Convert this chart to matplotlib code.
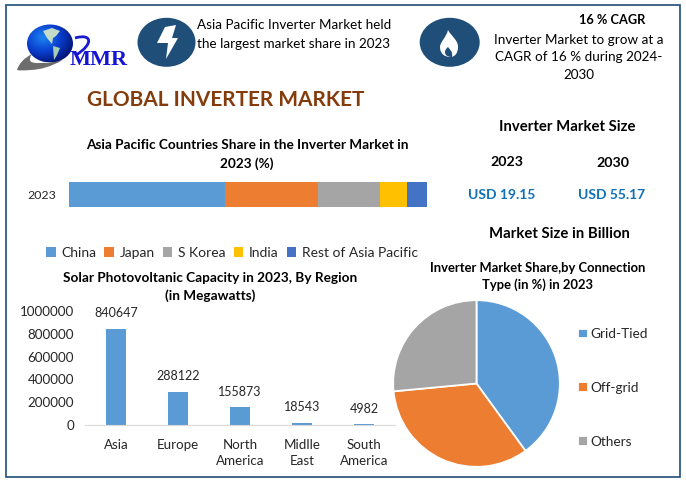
import matplotlib
matplotlib.use("Agg")
import matplotlib.pyplot as plt
import numpy as np
from matplotlib.colors import LinearSegmentedColormap
from matplotlib.patches import Ellipse, Polygon, Rectangle, PathPatch
from matplotlib.path import Path

W, H = 686, 482

plt.rcParams['font.family'] = ['Lato', 'DejaVu Sans']

# stacked bar
share_year = "2023"
share_countries = ["China", "Japan", "S Korea", "India", "Rest of Asia Pacific"]
share_values = [43.6, 25.9, 17.4, 7.5, 5.6]
share_colors = ["#5b9bd5", "#ed7d31", "#a5a5a5", "#ffc000", "#4472c4"]

# solar capacity bars
regions = ["Asia", "Europe", "North\nAmerica", "Midlle\nEast", "South\nAmerica"]
capacity = [840647, 288122, 155873, 18543, 4982]
capacity_ticks = [0, 200000, 400000, 600000, 800000, 1000000]

# pie
connection_types = ["Grid-Tied", "Off-grid", "Others"]
connection_share = [40, 33.5, 26.5]
pie_colors = ["#5b9bd5", "#ed7d31", "#a5a5a5"]

NAVY = "#1f4e79"
TXT = "#262626"


def px_axes(fig, left, top, right, bottom):
    return fig.add_axes([left / W, 1 - bottom / H, (right - left) / W, (bottom - top) / H])


fig = plt.figure(figsize=(W / 100, H / 100), dpi=100, facecolor="white")

# full figure layer in pixel coordinates for the text and icons
bg = fig.add_axes([0, 0, 1, 1])
bg.set_xlim(0, W)
bg.set_ylim(H, 0)
bg.axis("off")
bg.add_patch(Rectangle((6, 5), 674, 472, fill=False, ec=NAVY, lw=1.2))


def txt(x, y, s, size=9.75, weight="normal", color="black", ha="center", **kw):
    bg.text(x, y, s, fontsize=size, fontweight=weight, color=color, ha=ha, va="center", **kw)


# logo
swoosh = Path([(17, 70), (20, 60), (32, 54), (25, 64), (40, 63), (52, 63), (63, 60), (45, 70), (30, 70), (20, 71), (17, 70)],
              [1, 3, 3, 3, 3, 3, 3, 3, 3, 3, 3])
bg.add_patch(PathPatch(swoosh, fc="#6d6d6d", ec="none"))
yy, xx = np.mgrid[-1:1:120j, -1:1:120j]
rr = np.sqrt((xx + 0.3) ** 2 + (yy + 0.3) ** 2)
globe_cmap = LinearSegmentedColormap.from_list("globe", ["#1c86f0", "#0a3fd0", "#00106a"])
globe = bg.imshow(rr, cmap=globe_cmap, vmin=0, vmax=1.5, extent=(27, 73, 62.5, 24.5), zorder=2, aspect="auto")
globe.set_clip_path(Ellipse((50, 43.5), 46, 38, transform=bg.transData))
bg.set_xlim(0, W)
bg.set_ylim(H, 0)
bg.add_patch(Polygon([(43, 31), (52, 28), (60, 31), (56, 36), (53, 38), (52, 44), (47, 38)], fc="#c4dcc8", ec="none", zorder=3))
bg.add_patch(Polygon([(53, 46), (60, 48), (57, 55), (54, 60)], fc="#a8ccb4", ec="none", zorder=3))
arc = Path([(75, 38), (92, 33), (94, 44), (76, 55)], [1, 4, 4, 4])
bg.add_patch(PathPatch(arc, fc="none", ec="#1a1ad0", lw=2, zorder=3))
bg.text(99, 60, "MMR", fontsize=16, fontweight="bold", color="#1414d2", family="Liberation Serif",
        ha="center", va="center", zorder=4)

# icons
bg.add_patch(Ellipse((166.5, 42.3), 58, 49, fc=NAVY, ec="none"))
bg.add_patch(Polygon([(165, 27), (176, 25), (172, 38), (178, 38), (166, 59), (168, 43), (157, 43)],
                     fc="white", ec="none"))
bg.add_patch(Ellipse((449.7, 42.3), 60, 49, fc=NAVY, ec="none"))
flame = Path([(448, 30), (452, 37), (458, 40), (458, 47), (458, 53), (455, 57), (450, 57),
              (445, 57), (440, 54), (440, 47), (440, 42), (446, 38), (448, 30)],
             [1] + [4] * 12)
bg.add_patch(PathPatch(flame, fc="white", ec="none"))
inner = Path([(448, 47), (450, 50), (453, 51), (452, 57), (444, 57), (443, 51), (448, 47)], [1] + [4] * 6)
bg.add_patch(PathPatch(inner, fc=NAVY, ec="none"))

# header text
txt(197, 25, "Asia Pacific Inverter Market held", ha="left")
txt(197, 44.5, "the largest market share in 2023", ha="left")
txt(612.5, 19.5, "16 % CAGR", size=9.2, weight="bold")
txt(578.5, 39.5, "Inverter Market to grow at a")
txt(578.5, 57, "CAGR of 16 % during 2024-")
txt(578.5, 75, "2030")
txt(226, 99.5, "GLOBAL INVERTER MARKET", size=15, weight="bold", color="#843c0c")

# right hand numbers
txt(567, 127, "Inverter Market Size", size=10.7, weight="bold")
txt(507, 162, "2023", size=10.2, weight="bold")
txt(613, 163, "2030", size=10.2, weight="bold")
txt(502, 195, "USD 19.15", size=10, weight="bold", color="#0f70b7")
txt(612, 195, "USD 55.17", size=10, weight="bold", color="#0f70b7")
txt(559, 234, "Market Size in Billion", size=10.7, weight="bold")

# chart titles
txt(247, 145, "Asia Pacific Countries Share in the Inverter Market in", size=9.85, weight="bold")
txt(247, 163.5, "2023 (%)", size=9.85, weight="bold")
txt(210, 278, "Solar Photovoltanic Capacity in 2023, By Region", size=9.85, weight="bold")
txt(210, 296, "(in Megawatts)", size=9.85, weight="bold")
txt(538, 268, "Inverter Market Share,by Connection", size=9.4, weight="bold")
txt(538, 285, "Type (in %) in 2023", size=9.4, weight="bold")

# stacked bar chart
ax1 = px_axes(fig, 69, 181, 427, 208)
ax1.patch.set_alpha(0)
left = 0
for name, val, col in zip(share_countries, share_values, share_colors):
    ax1.barh([share_year], [val], left=left, height=1.0, color=col, label=name)
    left += val
ax1.set_xlim(0, sum(share_values))
ax1.set_xticks([])
ax1.tick_params(axis="y", length=0, labelsize=8.9, pad=9, labelcolor=TXT)
for s in ax1.spines.values():
    s.set_visible(False)
ax1.legend(ncol=5, loc="center", bbox_to_anchor=(0.455, -1.65), frameon=False, fontsize=10,
           labelcolor=TXT, handlelength=0.7, handleheight=0.7, handletextpad=0.4, columnspacing=0.58)

# capacity bar chart
ax2 = px_axes(fig, 85, 311, 395, 425)
ax2.patch.set_alpha(0)
pos = np.arange(len(regions))
bars = ax2.bar(pos, capacity, width=0.31, color="#5b9bd5")
ax2.set_xlim(-0.5, len(regions) - 0.5)
ax2.set_ylim(0, 1000000)
ax2.set_yticks(capacity_ticks)
ax2.set_yticklabels([str(t) for t in capacity_ticks])
ax2.set_xticks(pos)
ax2.set_xticklabels(regions, linespacing=1.45)
ax2.tick_params(axis="both", length=0, labelsize=9.6, labelcolor=TXT)
ax2.tick_params(axis="x", pad=10)
ax2.tick_params(axis="y", pad=8)
for s in ["top", "left", "right"]:
    ax2.spines[s].set_visible(False)
ax2.spines["bottom"].set_color("#d9d9d9")
ax2.bar_label(bars, labels=[str(v) for v in capacity], padding=7, fontsize=9, color=TXT)

# pie
ax3 = px_axes(fig, 393, 300, 560, 467)
wedges, _ = ax3.pie(connection_share, colors=pie_colors, startangle=90, counterclock=False, radius=1.0,
                    wedgeprops=dict(edgecolor="white", linewidth=1.3))
ax3.set_xlim(-1.002, 1.002)
ax3.set_ylim(-1.002, 1.002)
fig.legend(wedges, connection_types, loc="center left", bbox_to_anchor=(566 / W, 1 - 388 / H), frameon=False,
           fontsize=9.8, labelcolor=TXT, handlelength=0.7, handleheight=0.7, handletextpad=0.2, labelspacing=3.05)

fig.savefig("out.png", dpi=100)
